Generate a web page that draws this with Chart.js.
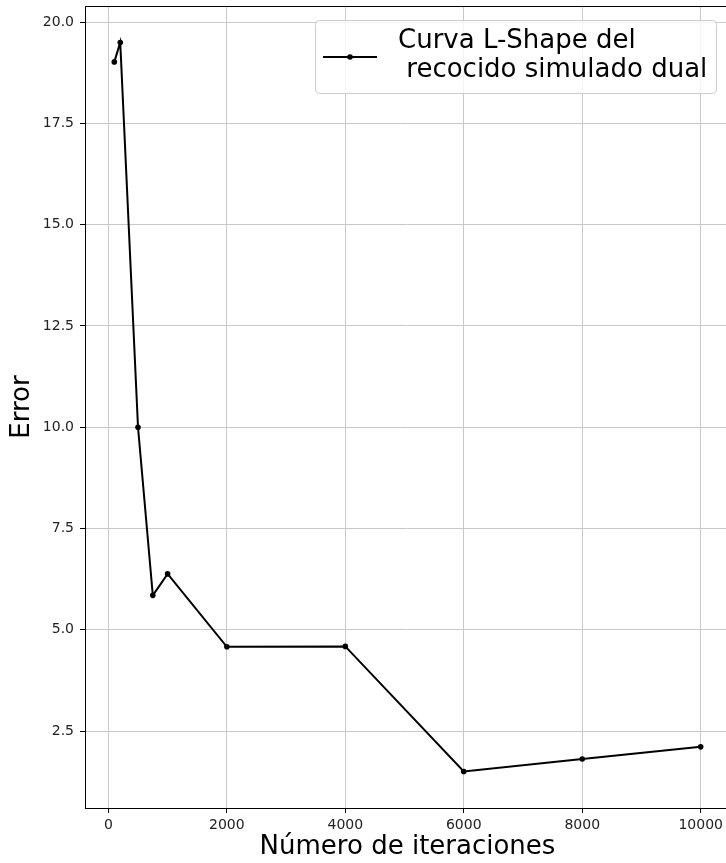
<!DOCTYPE html>
<html>
<head>
<meta charset="utf-8">
<script src="https://cdn.jsdelivr.net/npm/chart.js@4.4.1/dist/chart.umd.min.js"></script>
<style>
  html, body { margin: 0; padding: 0; background: #fff; overflow: hidden; }
  canvas { display: block; }
</style>
</head>
<body>
<canvas id="lcurve" width="731" height="863"></canvas>
<script>
// iterations vs error
const iteraciones = [100, 200, 500, 750, 1000, 2000, 4000, 6000, 8000, 10000];
const errores = [19.02, 19.5, 10.0, 5.85, 6.38, 4.58, 4.59, 1.5, 1.81, 2.11];
const serieLabel = ['Curva L-Shape del', ' recocido simulado dual'];
const xTicks = [0, 2000, 4000, 6000, 8000, 10000];
const yTicks = [2.5, 5.0, 7.5, 10.0, 12.5, 15.0, 17.5, 20.0];

const FONT = "'DejaVu Sans', sans-serif";

// black frame around the plot area (matplotlib spines)
const framePlugin = {
  id: 'frame',
  afterDatasetsDraw(chart) {
    const { ctx, chartArea: a } = chart;
    ctx.save();
    ctx.strokeStyle = '#000';
    ctx.lineWidth = 1;
    ctx.strokeRect(Math.round(a.left) + 0.5, Math.round(a.top) + 0.5,
      Math.round(a.right - a.left), Math.round(a.bottom - a.top));
    ctx.restore();
  }
};

// legend box drawn inside the axes, upper right
const legendBox = {
  id: 'legendBox',
  afterDraw(chart) {
    const { ctx } = chart;
    const ds = chart.data.datasets[0];
    const x0 = 315.5, y0 = 20.5, w = 401, h = 73, r = 4;
    ctx.save();
    ctx.beginPath();
    ctx.roundRect(x0, y0, w, h, r);
    ctx.fillStyle = 'rgba(255,255,255,0.8)';
    ctx.fill();
    ctx.strokeStyle = '#cccccc';
    ctx.lineWidth = 1;
    ctx.stroke();

    // line sample with marker
    ctx.beginPath();
    ctx.moveTo(323, 57);
    ctx.lineTo(377, 57);
    ctx.strokeStyle = ds.borderColor;
    ctx.lineWidth = ds.borderWidth;
    ctx.stroke();
    ctx.beginPath();
    ctx.arc(350, 57, ds.pointRadius, 0, Math.PI * 2);
    ctx.fillStyle = ds.pointBackgroundColor;
    ctx.fill();

    ctx.fillStyle = '#000';
    ctx.font = '26px ' + FONT;
    ctx.textAlign = 'left';
    ctx.textBaseline = 'alphabetic';
    ds.label.forEach((line, i) => {
      ctx.fillText(line, 398, 47.5 + i * 29.5);
    });
    ctx.restore();
  }
};

// fixed axis sizes, no extra label padding around the plot
function fixSize(prop, val) {
  return (s) => {
    s[prop] = val;
    s.paddingTop = 0; s.paddingBottom = 0;
    s.paddingLeft = 0; s.paddingRight = 0;
  };
}

const ctx = document.getElementById('lcurve').getContext('2d');

new Chart(ctx, {
  type: 'line',
  data: {
    datasets: [{
      label: serieLabel,
      data: iteraciones.map((it, i) => ({ x: it, y: errores[i] })),
      borderColor: '#000',
      borderWidth: 2,
      pointRadius: 2.8,
      pointBackgroundColor: '#000',
      pointBorderWidth: 0,
      tension: 0
    }]
  },
  options: {
    responsive: false,
    animation: false,
    devicePixelRatio: 1,
    layout: { autoPadding: false, padding: { left: 0, top: 6, right: 1, bottom: 0 } },
    plugins: {
      legend: { display: false },
      tooltip: { enabled: false }
    },
    scales: {
      x: {
        type: 'linear',
        min: -395,
        max: 10495,
        afterFit: fixSize('height', 55),
        afterBuildTicks: (s) => { s.ticks = xTicks.map(v => ({ value: v })); },
        border: { display: false },
        grid: { color: '#c8c8c8', lineWidth: 1, tickColor: '#000', tickLength: 5, tickWidth: 1 },
        ticks: {
          padding: 4,
          color: '#222',
          font: { family: FONT, size: 14 },
          maxRotation: 0,
          callback: (v) => String(v)
        },
        title: {
          display: true,
          text: 'Número de iteraciones',
          color: '#000',
          font: { family: FONT, size: 26 },
          padding: { top: 0, bottom: 0 }
        }
      },
      y: {
        type: 'linear',
        min: 0.6,
        max: 20.4,
        afterFit: fixSize('width', 85),
        afterBuildTicks: (s) => { s.ticks = yTicks.map(v => ({ value: v })); },
        border: { display: false },
        grid: { color: '#c8c8c8', lineWidth: 1, tickColor: '#000', tickLength: 5, tickWidth: 1 },
        ticks: {
          padding: 6,
          color: '#222',
          font: { family: FONT, size: 14 },
          callback: (v) => v.toFixed(1)
        },
        title: {
          display: true,
          text: 'Error',
          color: '#000',
          font: { family: FONT, size: 26 },
          padding: { top: 7, bottom: 0 }
        }
      }
    }
  },
  plugins: [framePlugin, legendBox]
});
</script>
</body>
</html>
